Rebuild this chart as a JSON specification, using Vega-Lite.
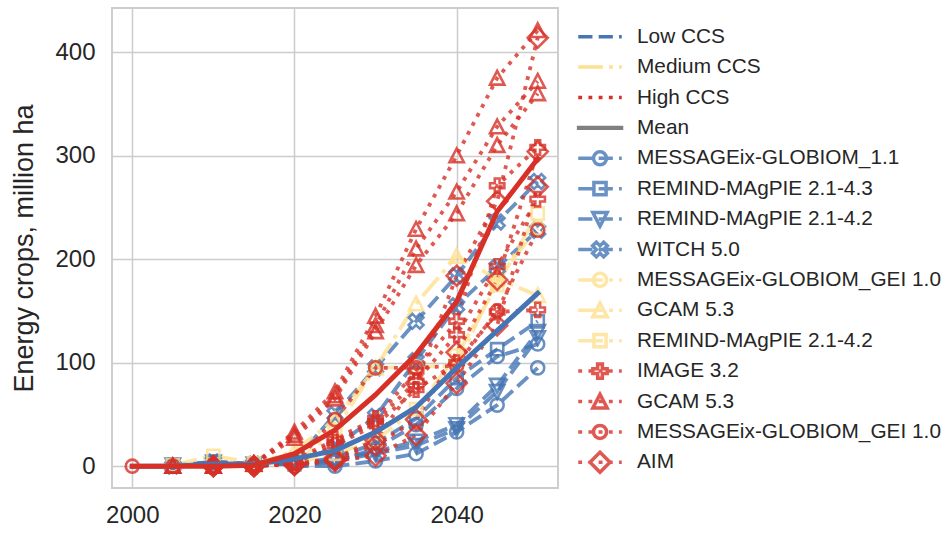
{
  "$schema": "https://vega.github.io/schema/vega-lite/v6.json",
  "autosize": {"type": "none"},
  "width": 446,
  "height": 480,
  "padding": {"left": 112, "top": 8, "right": 393, "bottom": 45},
  "background": "white",
  "config": {
    "view": {"stroke": "#cccccc", "strokeWidth": 1.9},
    "axis": {
      "domain": false, "ticks": false, "tickSize": 0,
      "grid": true, "gridColor": "#cccccc", "gridWidth": 1.5,
      "labelFont": "Liberation Sans", "labelFontSize": 24, "labelColor": "#262626",
      "titleFont": "Liberation Sans", "titleFontSize": 27, "titleFontWeight": "normal", "titleColor": "#262626"
    }
  },
  "datasets": {
    "series": [
      {"ccs":"Low CCS","model":"MESSAGEix-GLOBIOM_1.1","run":1,"year":2020,"value":0},
      {"ccs":"Low CCS","model":"MESSAGEix-GLOBIOM_1.1","run":1,"year":2025,"value":0},
      {"ccs":"Low CCS","model":"MESSAGEix-GLOBIOM_1.1","run":1,"year":2030,"value":5},
      {"ccs":"Low CCS","model":"MESSAGEix-GLOBIOM_1.1","run":1,"year":2035,"value":12},
      {"ccs":"Low CCS","model":"MESSAGEix-GLOBIOM_1.1","run":1,"year":2040,"value":33},
      {"ccs":"Low CCS","model":"MESSAGEix-GLOBIOM_1.1","run":1,"year":2045,"value":59},
      {"ccs":"Low CCS","model":"MESSAGEix-GLOBIOM_1.1","run":1,"year":2050,"value":95},
      {"ccs":"Low CCS","model":"MESSAGEix-GLOBIOM_1.1","run":2,"year":2020,"value":0},
      {"ccs":"Low CCS","model":"MESSAGEix-GLOBIOM_1.1","run":2,"year":2025,"value":4},
      {"ccs":"Low CCS","model":"MESSAGEix-GLOBIOM_1.1","run":2,"year":2030,"value":17},
      {"ccs":"Low CCS","model":"MESSAGEix-GLOBIOM_1.1","run":2,"year":2035,"value":40},
      {"ccs":"Low CCS","model":"MESSAGEix-GLOBIOM_1.1","run":2,"year":2040,"value":75},
      {"ccs":"Low CCS","model":"MESSAGEix-GLOBIOM_1.1","run":2,"year":2045,"value":106},
      {"ccs":"Low CCS","model":"MESSAGEix-GLOBIOM_1.1","run":2,"year":2050,"value":118},
      {"ccs":"Low CCS","model":"REMIND-MAgPIE 2.1-4.3","run":1,"year":2005,"value":1},
      {"ccs":"Low CCS","model":"REMIND-MAgPIE 2.1-4.3","run":1,"year":2010,"value":4},
      {"ccs":"Low CCS","model":"REMIND-MAgPIE 2.1-4.3","run":1,"year":2015,"value":2},
      {"ccs":"Low CCS","model":"REMIND-MAgPIE 2.1-4.3","run":1,"year":2020,"value":2},
      {"ccs":"Low CCS","model":"REMIND-MAgPIE 2.1-4.3","run":1,"year":2025,"value":8},
      {"ccs":"Low CCS","model":"REMIND-MAgPIE 2.1-4.3","run":1,"year":2030,"value":22},
      {"ccs":"Low CCS","model":"REMIND-MAgPIE 2.1-4.3","run":1,"year":2035,"value":46},
      {"ccs":"Low CCS","model":"REMIND-MAgPIE 2.1-4.3","run":1,"year":2040,"value":85},
      {"ccs":"Low CCS","model":"REMIND-MAgPIE 2.1-4.3","run":1,"year":2045,"value":113},
      {"ccs":"Low CCS","model":"REMIND-MAgPIE 2.1-4.3","run":1,"year":2050,"value":140},
      {"ccs":"Low CCS","model":"REMIND-MAgPIE 2.1-4.2","run":1,"year":2005,"value":1},
      {"ccs":"Low CCS","model":"REMIND-MAgPIE 2.1-4.2","run":1,"year":2010,"value":4},
      {"ccs":"Low CCS","model":"REMIND-MAgPIE 2.1-4.2","run":1,"year":2015,"value":2},
      {"ccs":"Low CCS","model":"REMIND-MAgPIE 2.1-4.2","run":1,"year":2020,"value":2},
      {"ccs":"Low CCS","model":"REMIND-MAgPIE 2.1-4.2","run":1,"year":2025,"value":6},
      {"ccs":"Low CCS","model":"REMIND-MAgPIE 2.1-4.2","run":1,"year":2030,"value":14},
      {"ccs":"Low CCS","model":"REMIND-MAgPIE 2.1-4.2","run":1,"year":2035,"value":24},
      {"ccs":"Low CCS","model":"REMIND-MAgPIE 2.1-4.2","run":1,"year":2040,"value":40},
      {"ccs":"Low CCS","model":"REMIND-MAgPIE 2.1-4.2","run":1,"year":2045,"value":78},
      {"ccs":"Low CCS","model":"REMIND-MAgPIE 2.1-4.2","run":1,"year":2050,"value":130},
      {"ccs":"Low CCS","model":"REMIND-MAgPIE 2.1-4.2","run":2,"year":2020,"value":2},
      {"ccs":"Low CCS","model":"REMIND-MAgPIE 2.1-4.2","run":2,"year":2025,"value":5},
      {"ccs":"Low CCS","model":"REMIND-MAgPIE 2.1-4.2","run":2,"year":2030,"value":12},
      {"ccs":"Low CCS","model":"REMIND-MAgPIE 2.1-4.2","run":2,"year":2035,"value":20},
      {"ccs":"Low CCS","model":"REMIND-MAgPIE 2.1-4.2","run":2,"year":2040,"value":36},
      {"ccs":"Low CCS","model":"REMIND-MAgPIE 2.1-4.2","run":2,"year":2045,"value":72},
      {"ccs":"Low CCS","model":"REMIND-MAgPIE 2.1-4.2","run":2,"year":2050,"value":124},
      {"ccs":"Low CCS","model":"WITCH 5.0","run":1,"year":2005,"value":0},
      {"ccs":"Low CCS","model":"WITCH 5.0","run":1,"year":2010,"value":4},
      {"ccs":"Low CCS","model":"WITCH 5.0","run":1,"year":2015,"value":2},
      {"ccs":"Low CCS","model":"WITCH 5.0","run":1,"year":2020,"value":3},
      {"ccs":"Low CCS","model":"WITCH 5.0","run":1,"year":2025,"value":18},
      {"ccs":"Low CCS","model":"WITCH 5.0","run":1,"year":2030,"value":48},
      {"ccs":"Low CCS","model":"WITCH 5.0","run":1,"year":2035,"value":102},
      {"ccs":"Low CCS","model":"WITCH 5.0","run":1,"year":2040,"value":155},
      {"ccs":"Low CCS","model":"WITCH 5.0","run":1,"year":2045,"value":192},
      {"ccs":"Low CCS","model":"WITCH 5.0","run":1,"year":2050,"value":228},
      {"ccs":"Low CCS","model":"WITCH 5.0","run":2,"year":2020,"value":5},
      {"ccs":"Low CCS","model":"WITCH 5.0","run":2,"year":2025,"value":50},
      {"ccs":"Low CCS","model":"WITCH 5.0","run":2,"year":2030,"value":95},
      {"ccs":"Low CCS","model":"WITCH 5.0","run":2,"year":2035,"value":140},
      {"ccs":"Low CCS","model":"WITCH 5.0","run":2,"year":2040,"value":184},
      {"ccs":"Low CCS","model":"WITCH 5.0","run":2,"year":2045,"value":236},
      {"ccs":"Low CCS","model":"WITCH 5.0","run":2,"year":2050,"value":275},
      {"ccs":"Medium CCS","model":"MESSAGEix-GLOBIOM_GEI 1.0","run":1,"year":2020,"value":2},
      {"ccs":"Medium CCS","model":"MESSAGEix-GLOBIOM_GEI 1.0","run":1,"year":2025,"value":35},
      {"ccs":"Medium CCS","model":"MESSAGEix-GLOBIOM_GEI 1.0","run":1,"year":2030,"value":95},
      {"ccs":"Medium CCS","model":"MESSAGEix-GLOBIOM_GEI 1.0","run":1,"year":2035,"value":96},
      {"ccs":"Medium CCS","model":"MESSAGEix-GLOBIOM_GEI 1.0","run":1,"year":2040,"value":97},
      {"ccs":"Medium CCS","model":"MESSAGEix-GLOBIOM_GEI 1.0","run":1,"year":2045,"value":181},
      {"ccs":"Medium CCS","model":"MESSAGEix-GLOBIOM_GEI 1.0","run":1,"year":2050,"value":230},
      {"ccs":"Medium CCS","model":"GCAM 5.3","run":1,"year":2005,"value":0},
      {"ccs":"Medium CCS","model":"GCAM 5.3","run":1,"year":2010,"value":0},
      {"ccs":"Medium CCS","model":"GCAM 5.3","run":1,"year":2015,"value":1},
      {"ccs":"Medium CCS","model":"GCAM 5.3","run":1,"year":2020,"value":15},
      {"ccs":"Medium CCS","model":"GCAM 5.3","run":1,"year":2025,"value":45},
      {"ccs":"Medium CCS","model":"GCAM 5.3","run":1,"year":2030,"value":95},
      {"ccs":"Medium CCS","model":"GCAM 5.3","run":1,"year":2035,"value":157},
      {"ccs":"Medium CCS","model":"GCAM 5.3","run":1,"year":2040,"value":203},
      {"ccs":"Medium CCS","model":"GCAM 5.3","run":1,"year":2045,"value":181},
      {"ccs":"Medium CCS","model":"GCAM 5.3","run":1,"year":2050,"value":165},
      {"ccs":"Medium CCS","model":"REMIND-MAgPIE 2.1-4.2","run":1,"year":2005,"value":1},
      {"ccs":"Medium CCS","model":"REMIND-MAgPIE 2.1-4.2","run":1,"year":2010,"value":10},
      {"ccs":"Medium CCS","model":"REMIND-MAgPIE 2.1-4.2","run":1,"year":2015,"value":3},
      {"ccs":"Medium CCS","model":"REMIND-MAgPIE 2.1-4.2","run":1,"year":2020,"value":3},
      {"ccs":"Medium CCS","model":"REMIND-MAgPIE 2.1-4.2","run":1,"year":2025,"value":12},
      {"ccs":"Medium CCS","model":"REMIND-MAgPIE 2.1-4.2","run":1,"year":2030,"value":25},
      {"ccs":"Medium CCS","model":"REMIND-MAgPIE 2.1-4.2","run":1,"year":2035,"value":55},
      {"ccs":"Medium CCS","model":"REMIND-MAgPIE 2.1-4.2","run":1,"year":2040,"value":107},
      {"ccs":"Medium CCS","model":"REMIND-MAgPIE 2.1-4.2","run":1,"year":2045,"value":175},
      {"ccs":"Medium CCS","model":"REMIND-MAgPIE 2.1-4.2","run":1,"year":2050,"value":244},
      {"ccs":"High CCS","model":"IMAGE 3.2","run":1,"year":2010,"value":0},
      {"ccs":"High CCS","model":"IMAGE 3.2","run":1,"year":2015,"value":0},
      {"ccs":"High CCS","model":"IMAGE 3.2","run":1,"year":2020,"value":5},
      {"ccs":"High CCS","model":"IMAGE 3.2","run":1,"year":2025,"value":26},
      {"ccs":"High CCS","model":"IMAGE 3.2","run":1,"year":2030,"value":46},
      {"ccs":"High CCS","model":"IMAGE 3.2","run":1,"year":2035,"value":92},
      {"ccs":"High CCS","model":"IMAGE 3.2","run":1,"year":2040,"value":140},
      {"ccs":"High CCS","model":"IMAGE 3.2","run":1,"year":2045,"value":271},
      {"ccs":"High CCS","model":"IMAGE 3.2","run":1,"year":2050,"value":308},
      {"ccs":"High CCS","model":"IMAGE 3.2","run":2,"year":2010,"value":0},
      {"ccs":"High CCS","model":"IMAGE 3.2","run":2,"year":2015,"value":0},
      {"ccs":"High CCS","model":"IMAGE 3.2","run":2,"year":2020,"value":4},
      {"ccs":"High CCS","model":"IMAGE 3.2","run":2,"year":2025,"value":23},
      {"ccs":"High CCS","model":"IMAGE 3.2","run":2,"year":2030,"value":43},
      {"ccs":"High CCS","model":"IMAGE 3.2","run":2,"year":2035,"value":82},
      {"ccs":"High CCS","model":"IMAGE 3.2","run":2,"year":2040,"value":127},
      {"ccs":"High CCS","model":"IMAGE 3.2","run":2,"year":2045,"value":193},
      {"ccs":"High CCS","model":"IMAGE 3.2","run":2,"year":2050,"value":258},
      {"ccs":"High CCS","model":"IMAGE 3.2","run":3,"year":2010,"value":0},
      {"ccs":"High CCS","model":"IMAGE 3.2","run":3,"year":2015,"value":0},
      {"ccs":"High CCS","model":"IMAGE 3.2","run":3,"year":2020,"value":3},
      {"ccs":"High CCS","model":"IMAGE 3.2","run":3,"year":2025,"value":20},
      {"ccs":"High CCS","model":"IMAGE 3.2","run":3,"year":2030,"value":40},
      {"ccs":"High CCS","model":"IMAGE 3.2","run":3,"year":2035,"value":74},
      {"ccs":"High CCS","model":"IMAGE 3.2","run":3,"year":2040,"value":100},
      {"ccs":"High CCS","model":"IMAGE 3.2","run":3,"year":2045,"value":149},
      {"ccs":"High CCS","model":"IMAGE 3.2","run":3,"year":2050,"value":151},
      {"ccs":"High CCS","model":"GCAM 5.3","run":1,"year":2005,"value":0},
      {"ccs":"High CCS","model":"GCAM 5.3","run":1,"year":2010,"value":0},
      {"ccs":"High CCS","model":"GCAM 5.3","run":1,"year":2015,"value":2},
      {"ccs":"High CCS","model":"GCAM 5.3","run":1,"year":2020,"value":33},
      {"ccs":"High CCS","model":"GCAM 5.3","run":1,"year":2025,"value":72},
      {"ccs":"High CCS","model":"GCAM 5.3","run":1,"year":2030,"value":145},
      {"ccs":"High CCS","model":"GCAM 5.3","run":1,"year":2035,"value":229},
      {"ccs":"High CCS","model":"GCAM 5.3","run":1,"year":2040,"value":300},
      {"ccs":"High CCS","model":"GCAM 5.3","run":1,"year":2045,"value":375},
      {"ccs":"High CCS","model":"GCAM 5.3","run":1,"year":2050,"value":421},
      {"ccs":"High CCS","model":"GCAM 5.3","run":2,"year":2005,"value":0},
      {"ccs":"High CCS","model":"GCAM 5.3","run":2,"year":2010,"value":0},
      {"ccs":"High CCS","model":"GCAM 5.3","run":2,"year":2015,"value":2},
      {"ccs":"High CCS","model":"GCAM 5.3","run":2,"year":2020,"value":30},
      {"ccs":"High CCS","model":"GCAM 5.3","run":2,"year":2025,"value":68},
      {"ccs":"High CCS","model":"GCAM 5.3","run":2,"year":2030,"value":136},
      {"ccs":"High CCS","model":"GCAM 5.3","run":2,"year":2035,"value":210},
      {"ccs":"High CCS","model":"GCAM 5.3","run":2,"year":2040,"value":265},
      {"ccs":"High CCS","model":"GCAM 5.3","run":2,"year":2045,"value":328},
      {"ccs":"High CCS","model":"GCAM 5.3","run":2,"year":2050,"value":372},
      {"ccs":"High CCS","model":"GCAM 5.3","run":3,"year":2005,"value":0},
      {"ccs":"High CCS","model":"GCAM 5.3","run":3,"year":2010,"value":0},
      {"ccs":"High CCS","model":"GCAM 5.3","run":3,"year":2015,"value":2},
      {"ccs":"High CCS","model":"GCAM 5.3","run":3,"year":2020,"value":27},
      {"ccs":"High CCS","model":"GCAM 5.3","run":3,"year":2025,"value":65},
      {"ccs":"High CCS","model":"GCAM 5.3","run":3,"year":2030,"value":130},
      {"ccs":"High CCS","model":"GCAM 5.3","run":3,"year":2035,"value":194},
      {"ccs":"High CCS","model":"GCAM 5.3","run":3,"year":2040,"value":244},
      {"ccs":"High CCS","model":"GCAM 5.3","run":3,"year":2045,"value":310},
      {"ccs":"High CCS","model":"GCAM 5.3","run":3,"year":2050,"value":360},
      {"ccs":"High CCS","model":"MESSAGEix-GLOBIOM_GEI 1.0","run":1,"year":2000,"value":0},
      {"ccs":"High CCS","model":"MESSAGEix-GLOBIOM_GEI 1.0","run":1,"year":2005,"value":0},
      {"ccs":"High CCS","model":"MESSAGEix-GLOBIOM_GEI 1.0","run":1,"year":2010,"value":0},
      {"ccs":"High CCS","model":"MESSAGEix-GLOBIOM_GEI 1.0","run":1,"year":2015,"value":0},
      {"ccs":"High CCS","model":"MESSAGEix-GLOBIOM_GEI 1.0","run":1,"year":2020,"value":3},
      {"ccs":"High CCS","model":"MESSAGEix-GLOBIOM_GEI 1.0","run":1,"year":2025,"value":45},
      {"ccs":"High CCS","model":"MESSAGEix-GLOBIOM_GEI 1.0","run":1,"year":2030,"value":95},
      {"ccs":"High CCS","model":"MESSAGEix-GLOBIOM_GEI 1.0","run":1,"year":2035,"value":95},
      {"ccs":"High CCS","model":"MESSAGEix-GLOBIOM_GEI 1.0","run":1,"year":2040,"value":97},
      {"ccs":"High CCS","model":"MESSAGEix-GLOBIOM_GEI 1.0","run":1,"year":2045,"value":150},
      {"ccs":"High CCS","model":"MESSAGEix-GLOBIOM_GEI 1.0","run":1,"year":2050,"value":228},
      {"ccs":"High CCS","model":"AIM","run":1,"year":2010,"value":0},
      {"ccs":"High CCS","model":"AIM","run":1,"year":2015,"value":0},
      {"ccs":"High CCS","model":"AIM","run":1,"year":2020,"value":2},
      {"ccs":"High CCS","model":"AIM","run":1,"year":2025,"value":8},
      {"ccs":"High CCS","model":"AIM","run":1,"year":2030,"value":25},
      {"ccs":"High CCS","model":"AIM","run":1,"year":2035,"value":80},
      {"ccs":"High CCS","model":"AIM","run":1,"year":2040,"value":184},
      {"ccs":"High CCS","model":"AIM","run":1,"year":2045,"value":256},
      {"ccs":"High CCS","model":"AIM","run":1,"year":2050,"value":414},
      {"ccs":"High CCS","model":"AIM","run":2,"year":2010,"value":0},
      {"ccs":"High CCS","model":"AIM","run":2,"year":2015,"value":0},
      {"ccs":"High CCS","model":"AIM","run":2,"year":2020,"value":2},
      {"ccs":"High CCS","model":"AIM","run":2,"year":2025,"value":6},
      {"ccs":"High CCS","model":"AIM","run":2,"year":2030,"value":20},
      {"ccs":"High CCS","model":"AIM","run":2,"year":2035,"value":45},
      {"ccs":"High CCS","model":"AIM","run":2,"year":2040,"value":110},
      {"ccs":"High CCS","model":"AIM","run":2,"year":2045,"value":180},
      {"ccs":"High CCS","model":"AIM","run":2,"year":2050,"value":304},
      {"ccs":"High CCS","model":"AIM","run":3,"year":2020,"value":1},
      {"ccs":"High CCS","model":"AIM","run":3,"year":2025,"value":5},
      {"ccs":"High CCS","model":"AIM","run":3,"year":2030,"value":10},
      {"ccs":"High CCS","model":"AIM","run":3,"year":2035,"value":30},
      {"ccs":"High CCS","model":"AIM","run":3,"year":2040,"value":80},
      {"ccs":"High CCS","model":"AIM","run":3,"year":2045,"value":136},
      {"ccs":"High CCS","model":"AIM","run":3,"year":2050,"value":270},
      {"ccs":"Low CCS","model":"Mean","run":0,"year":2000,"value":0},
      {"ccs":"Low CCS","model":"Mean","run":0,"year":2005,"value":0},
      {"ccs":"Low CCS","model":"Mean","run":0,"year":2010,"value":2},
      {"ccs":"Low CCS","model":"Mean","run":0,"year":2015,"value":2},
      {"ccs":"Low CCS","model":"Mean","run":0,"year":2020,"value":7},
      {"ccs":"Low CCS","model":"Mean","run":0,"year":2025,"value":15},
      {"ccs":"Low CCS","model":"Mean","run":0,"year":2030,"value":33},
      {"ccs":"Low CCS","model":"Mean","run":0,"year":2035,"value":57},
      {"ccs":"Low CCS","model":"Mean","run":0,"year":2040,"value":95},
      {"ccs":"Low CCS","model":"Mean","run":0,"year":2045,"value":131},
      {"ccs":"Low CCS","model":"Mean","run":0,"year":2050,"value":167},
      {"ccs":"High CCS","model":"Mean","run":0,"year":2000,"value":0},
      {"ccs":"High CCS","model":"Mean","run":0,"year":2005,"value":0},
      {"ccs":"High CCS","model":"Mean","run":0,"year":2010,"value":0},
      {"ccs":"High CCS","model":"Mean","run":0,"year":2015,"value":1},
      {"ccs":"High CCS","model":"Mean","run":0,"year":2020,"value":12},
      {"ccs":"High CCS","model":"Mean","run":0,"year":2025,"value":35},
      {"ccs":"High CCS","model":"Mean","run":0,"year":2030,"value":69},
      {"ccs":"High CCS","model":"Mean","run":0,"year":2035,"value":108},
      {"ccs":"High CCS","model":"Mean","run":0,"year":2040,"value":159},
      {"ccs":"High CCS","model":"Mean","run":0,"year":2045,"value":246},
      {"ccs":"High CCS","model":"Mean","run":0,"year":2050,"value":297}
    ],
    "legend": [
      {"entry":"Low CCS"},
      {"entry":"Medium CCS"},
      {"entry":"High CCS"},
      {"entry":"Mean"},
      {"entry":"Low CCS|MESSAGEix-GLOBIOM_1.1"},
      {"entry":"Low CCS|REMIND-MAgPIE 2.1-4.3"},
      {"entry":"Low CCS|REMIND-MAgPIE 2.1-4.2"},
      {"entry":"Low CCS|WITCH 5.0"},
      {"entry":"Medium CCS|MESSAGEix-GLOBIOM_GEI 1.0"},
      {"entry":"Medium CCS|GCAM 5.3"},
      {"entry":"Medium CCS|REMIND-MAgPIE 2.1-4.2"},
      {"entry":"High CCS|IMAGE 3.2"},
      {"entry":"High CCS|GCAM 5.3"},
      {"entry":"High CCS|MESSAGEix-GLOBIOM_GEI 1.0"},
      {"entry":"High CCS|AIM"}
    ]
  },
  "resolve": {"scale": {"color": "independent", "shape": "independent"}},
  "layer": [
    {
      "data": {"name": "series"},
      "transform": [
        {"filter": "datum.model !== 'Mean'"},
        {"calculate": "datum.ccs + '|' + datum.model", "as": "entry"}
      ],
      "mark": {"type": "line", "strokeWidth": 3.85, "opacity": 0.8, "strokeJoin": "round"},
      "encoding": {
        "x": {
          "field": "year", "type": "quantitative",
          "scale": {"domain": [1997.5, 2052.5], "nice": false, "zero": false},
          "axis": {"values": [2000, 2020, 2040], "format": "d", "title": null, "labelPadding": 15}
        },
        "y": {
          "field": "value", "type": "quantitative",
          "scale": {"domain": [-21.1, 442.7], "nice": false, "zero": false},
          "axis": {"values": [0, 100, 200, 300, 400], "title": "Energy crops, million ha", "labelPadding": 17, "titlePadding": 16}
        },
        "color": {
          "field": "ccs", "type": "nominal",
          "scale": {"domain": ["Low CCS", "Medium CCS", "High CCS"], "range": ["#4575b4", "#fee090", "#d73027"]},
          "legend": null
        },
        "strokeDash": {
          "field": "ccs", "type": "nominal",
          "scale": {"domain": ["Low CCS", "Medium CCS", "High CCS"], "range": [[14.2, 6.2], [24.6, 6.2, 3.85, 6.2], [3.85, 6.35]]},
          "legend": null
        },
        "detail": [{"field": "entry"}, {"field": "run"}]
      }
    },
    {
      "data": {"name": "series"},
      "transform": [
        {"filter": "datum.model !== 'Mean'"},
        {"calculate": "datum.ccs + '|' + datum.model", "as": "entry"}
      ],
      "mark": {"type": "point", "filled": false, "strokeWidth": 2.6, "opacity": 0.8, "size": 1892},
      "encoding": {
        "x": {"field": "year", "type": "quantitative"},
        "y": {"field": "value", "type": "quantitative"},
        "color": {
          "field": "ccs", "type": "nominal",
          "scale": {"domain": ["Low CCS", "Medium CCS", "High CCS"], "range": ["#4575b4", "#fee090", "#d73027"]},
          "legend": null
        },
        "shape": {
          "field": "entry", "type": "nominal",
          "scale": {
            "domain": [
              "Low CCS|MESSAGEix-GLOBIOM_1.1", "Low CCS|REMIND-MAgPIE 2.1-4.3", "Low CCS|REMIND-MAgPIE 2.1-4.2", "Low CCS|WITCH 5.0",
              "Medium CCS|MESSAGEix-GLOBIOM_GEI 1.0", "Medium CCS|GCAM 5.3", "Medium CCS|REMIND-MAgPIE 2.1-4.2",
              "High CCS|IMAGE 3.2", "High CCS|GCAM 5.3", "High CCS|MESSAGEix-GLOBIOM_GEI 1.0", "High CCS|AIM"
            ],
            "range": [
              "M0.3,0A0.3,0.3,0,1,1,-0.3,0A0.3,0.3,0,1,1,0.3,0Z",
              "M-0.28,-0.28H0.28V0.28H-0.28Z",
              "M-0.33,-0.3H0.33L0,0.33Z",
              "M0.17,-0.339L0.339,-0.17L0.17,0L0.339,0.17L0.17,0.339L0,0.17L-0.17,0.339L-0.339,0.17L-0.17,0L-0.339,-0.17L-0.17,-0.339L0,-0.17Z",
              "M0.3,0A0.3,0.3,0,1,1,-0.3,0A0.3,0.3,0,1,1,0.3,0Z",
              "M0,-0.33L0.33,0.3H-0.33Z",
              "M-0.28,-0.28H0.28V0.28H-0.28Z",
              "M-0.11,-0.33H0.11V-0.11H0.33V0.11H0.11V0.33H-0.11V0.11H-0.33V-0.11H-0.11Z",
              "M0,-0.33L0.33,0.3H-0.33Z",
              "M0.3,0A0.3,0.3,0,1,1,-0.3,0A0.3,0.3,0,1,1,0.3,0Z",
              "M0,-0.46L0.46,0L0,0.46L-0.46,0Z"
            ]
          },
          "legend": null
        }
      }
    },
    {
      "data": {"name": "series"},
      "transform": [{"filter": "datum.model === 'Mean'"}],
      "mark": {"type": "line", "strokeWidth": 5, "strokeCap": "square", "strokeJoin": "round"},
      "encoding": {
        "x": {"field": "year", "type": "quantitative"},
        "y": {"field": "value", "type": "quantitative"},
        "color": {
          "field": "ccs", "type": "nominal",
          "scale": {"domain": ["Low CCS", "Medium CCS", "High CCS"], "range": ["#4575b4", "#fee090", "#d73027"]},
          "legend": null
        }
      }
    },
    {
      "data": {"name": "legend"},
      "mark": {"type": "point", "filled": false, "opacity": 0},
      "encoding": {
        "color": {
          "field": "entry", "type": "nominal", "sort": null,
          "scale": {
            "domain": [
              "Low CCS", "Medium CCS", "High CCS", "Mean",
              "Low CCS|MESSAGEix-GLOBIOM_1.1", "Low CCS|REMIND-MAgPIE 2.1-4.3", "Low CCS|REMIND-MAgPIE 2.1-4.2", "Low CCS|WITCH 5.0",
              "Medium CCS|MESSAGEix-GLOBIOM_GEI 1.0", "Medium CCS|GCAM 5.3", "Medium CCS|REMIND-MAgPIE 2.1-4.2",
              "High CCS|IMAGE 3.2", "High CCS|GCAM 5.3", "High CCS|MESSAGEix-GLOBIOM_GEI 1.0", "High CCS|AIM"
            ],
            "range": [
              "#4575b4", "#fee090", "#d73027", "#808080",
              "#6a91c3", "#6a91c3", "#6a91c3", "#6a91c3",
              "#fee6a6", "#fee6a6", "#fee6a6",
              "#df5952", "#df5952", "#df5952", "#df5952"
            ]
          },
          "legend": {
            "orient": "none", "legendX": 464.5, "legendY": 13.7,
            "title": null, "padding": 0, "rowPadding": 0.4, "clipHeight": 30,
            "symbolSize": 1892, "symbolStrokeWidth": 3.5, "symbolOpacity": 1, "symbolOffset": 0,
            "labelOffset": 13.5, "labelFont": "Liberation Sans", "labelFontSize": 20.8, "labelColor": "#262626", "labelLimit": 600,
            "labelExpr": "indexof(datum.label, '|') >= 0 ? substring(datum.label, indexof(datum.label, '|') + 1) : datum.label"
          }
        },
        "shape": {
          "field": "entry", "type": "nominal", "sort": null,
          "scale": {
            "domain": [
              "Low CCS", "Medium CCS", "High CCS", "Mean",
              "Low CCS|MESSAGEix-GLOBIOM_1.1", "Low CCS|REMIND-MAgPIE 2.1-4.3", "Low CCS|REMIND-MAgPIE 2.1-4.2", "Low CCS|WITCH 5.0",
              "Medium CCS|MESSAGEix-GLOBIOM_GEI 1.0", "Medium CCS|GCAM 5.3", "Medium CCS|REMIND-MAgPIE 2.1-4.2",
              "High CCS|IMAGE 3.2", "High CCS|GCAM 5.3", "High CCS|MESSAGEix-GLOBIOM_GEI 1.0", "High CCS|AIM"
            ],
            "range": [
              "M-1,0H-0.347M-0.062,0H0.591M0.876,0H1",
              "M-1,0H0.131M0.416,0H0.593M0.878,0H1",
              "M-1,0H-0.823M-0.531,0H-0.354M-0.062,0H0.115M0.407,0H0.584M0.876,0H1",
              "M-1.07,-0.02H1.07M-1.07,0.02H1.07",
              "M-1,0H-0.347M-0.062,0H0.591M0.876,0H1M0.3,0A0.3,0.3,0,1,1,-0.3,0A0.3,0.3,0,1,1,0.3,0Z",
              "M-1,0H-0.347M-0.062,0H0.591M0.876,0H1M-0.28,-0.28H0.28V0.28H-0.28Z",
              "M-1,0H-0.347M-0.062,0H0.591M0.876,0H1M-0.33,-0.3H0.33L0,0.33Z",
              "M-1,0H-0.347M-0.062,0H0.591M0.876,0H1M0.17,-0.339L0.339,-0.17L0.17,0L0.339,0.17L0.17,0.339L0,0.17L-0.17,0.339L-0.339,0.17L-0.17,0L-0.339,-0.17L-0.17,-0.339L0,-0.17Z",
              "M-1,0H0.131M0.416,0H0.593M0.878,0H1M0.3,0A0.3,0.3,0,1,1,-0.3,0A0.3,0.3,0,1,1,0.3,0Z",
              "M-1,0H0.131M0.416,0H0.593M0.878,0H1M0,-0.33L0.33,0.3H-0.33Z",
              "M-1,0H0.131M0.416,0H0.593M0.878,0H1M-0.28,-0.28H0.28V0.28H-0.28Z",
              "M-1,0H-0.823M-0.531,0H-0.354M-0.062,0H0.115M0.407,0H0.584M0.876,0H1M-0.11,-0.33H0.11V-0.11H0.33V0.11H0.11V0.33H-0.11V0.11H-0.33V-0.11H-0.11Z",
              "M-1,0H-0.823M-0.531,0H-0.354M-0.062,0H0.115M0.407,0H0.584M0.876,0H1M0,-0.33L0.33,0.3H-0.33Z",
              "M-1,0H-0.823M-0.531,0H-0.354M-0.062,0H0.115M0.407,0H0.584M0.876,0H1M0.3,0A0.3,0.3,0,1,1,-0.3,0A0.3,0.3,0,1,1,0.3,0Z",
              "M-1,0H-0.823M-0.531,0H-0.354M-0.062,0H0.115M0.407,0H0.584M0.876,0H1M0,-0.46L0.46,0L0,0.46L-0.46,0Z"
            ]
          }
        }
      }
    }
  ]
}
